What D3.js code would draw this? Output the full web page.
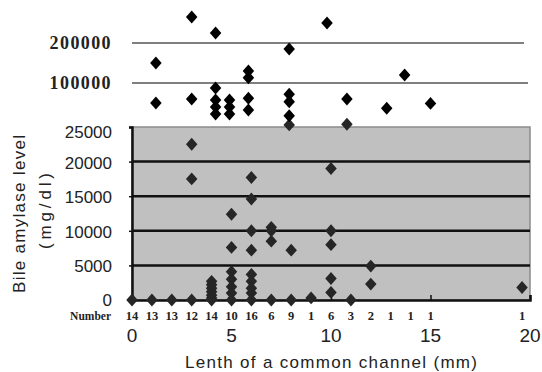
<!DOCTYPE html>
<html>
<head>
<meta charset="utf-8">
<script src="https://cdn.jsdelivr.net/npm/d3@7"></script>
<style>
  body { margin: 0; background: #fff; }
  svg { display: block; }
</style>
</head>
<body>
<div id="chart"></div>
<script>
// upper part of the broken axis (values above 25000)
const upperX = [3.0, 4.2, 1.2, 1.2, 3.0, 4.2, 4.2, 4.2, 4.2, 4.9, 4.9, 4.9, 5.85, 5.85, 5.85, 5.85, 7.9, 7.9, 7.9, 7.9, 9.8, 10.8, 12.8, 13.7, 15.0]
const upperY = [265000, 225000, 150000, 50000, 60000, 87500, 57500, 40000, 22500, 57500, 40000, 22500, 130000, 113000, 62000, 32500, 185000, 72000, 53000, 18000, 250000, 60000, 37000, 120000, 49000]

// lower part (0 - 25000)
const lowerX = [0, 1, 2, 3, 3, 3, 4, 4, 4, 4, 4, 4, 4, 5, 5, 5, 5, 5, 5, 5, 6, 6, 6, 6, 6, 6, 6, 6, 6, 7, 7, 7, 7, 7.9, 8, 8, 9, 10, 10, 10, 10, 10, 10.8, 11, 12, 12, 19.6]
const lowerY = [0, 0, 0, 22500, 17500, 0, 2700, 2200, 1700, 1200, 700, 300, 0, 12400, 7600, 4100, 3000, 1900, 1000, 0, 17700, 14600, 10000, 7200, 3700, 2700, 1700, 1000, 0, 10500, 10000, 8500, 0, 25300, 7200, 0, 300, 19000, 10000, 8000, 3100, 1100, 25400, 0, 4900, 2300, 1800]

const upperTicks = [100000, 200000]
const lowerTicks = [0, 5000, 10000, 15000, 20000, 25000]
const xTicks = [0, 5, 10, 15, 20]

// number of cases per length
const numberX = [0, 1, 2, 3, 4, 5, 6, 7, 8, 9, 10, 11, 12, 13, 14, 15, 19.6]
const numberN = [14, 13, 13, 12, 14, 10, 16, 6, 9, 1, 6, 3, 2, 1, 1, 1, 1]

const width = 542
const height = 372

const svg = d3.select("#chart")
    .append("svg")
    .attr("width", width)
    .attr("height", height)

const x = d3.scaleLinear().domain([0, 20]).range([132, 530])
const yLow = d3.scaleLinear().domain([0, 25000]).range([300, 127])
const yUp = d3.scaleLinear().domain([100000, 200000]).range([83, 43])

const diamond = d3.symbol().type(d3.symbolSquare).size(66)

// ---- upper panel
svg.append("g")
    .selectAll("line")
    .data(upperTicks)
    .join("line")
    .attr("x1", x(0))
    .attr("x2", (d, i) => i ? 524 : 528)
    .attr("y1", d => yUp(d))
    .attr("y2", d => yUp(d))
    .attr("stroke", "#555")
    .attr("stroke-width", 1.5)

svg.append("g")
    .selectAll("text")
    .data(upperTicks)
    .join("text")
    .attr("x", 112)
    .attr("y", d => yUp(d) + 6)
    .attr("text-anchor", "end")
    .style("font-family", "'Liberation Serif', serif")
    .style("font-weight", "bold")
    .style("font-size", "18px")
    .style("letter-spacing", "1.4px")
    .attr("fill", "#222")
    .text(d => d)

// ---- lower panel
svg.append("rect")
    .attr("x", x(0))
    .attr("y", yLow(25000))
    .attr("width", x(20) - x(0))
    .attr("height", yLow(0) - yLow(25000))
    .attr("fill", "#c0c0c0")
    .attr("stroke", "#8a8a8a")
    .attr("stroke-width", 1.5)

svg.append("g")
    .selectAll("line")
    .data(lowerTicks.filter(d => d > 0 && d < 25000))
    .join("line")
    .attr("x1", x(0))
    .attr("x2", x(20))
    .attr("y1", d => yLow(d))
    .attr("y2", d => yLow(d))
    .attr("stroke", "#111")
    .attr("stroke-width", 2.5)

// axes
const xAxis = svg.append("g")
    .attr("transform", `translate(0,${yLow(0)})`)
    .call(d3.axisBottom(x).tickValues(xTicks).tickSize(-5).tickFormat(""))
xAxis.select(".domain").attr("stroke", "#111").attr("stroke-width", 2.5)
xAxis.selectAll(".tick line").attr("stroke", "#111").attr("stroke-width", 1.5)

const yAxis = svg.append("g")
    .attr("transform", `translate(${x(0)},0)`)
    .call(d3.axisLeft(yLow).tickValues(lowerTicks).tickSize(3).tickFormat(""))
yAxis.select(".domain").attr("stroke", "#111").attr("stroke-width", 2.5)
yAxis.selectAll(".tick line").attr("stroke", "#111").attr("stroke-width", 1.5)

svg.append("g")
    .selectAll("text")
    .data(lowerTicks)
    .join("text")
    .attr("x", 112)
    .attr("y", d => yLow(d) + (d === 25000 ? 11 : d === 0 ? 6 : 7))
    .attr("text-anchor", "end")
    .style("font-family", "'Liberation Sans', Arial, sans-serif")
    .style("font-size", "17px")
    .attr("fill", "#222")
    .text(d => d)

svg.append("g")
    .selectAll("text")
    .data(xTicks)
    .join("text")
    .attr("x", d => x(d))
    .attr("y", 342)
    .attr("text-anchor", "middle")
    .style("font-family", "'Liberation Sans', Arial, sans-serif")
    .style("font-size", "19px")
    .attr("fill", "#222")
    .text(d => d)

// points
svg.append("g")
    .selectAll("path")
    .data(lowerX.map((d, i) => [d, lowerY[i]]))
    .join("path")
    .attr("d", diamond)
    .attr("transform", d => `translate(${x(d[0])},${yLow(d[1])}) scale(1,1.12) rotate(45)`)
    .attr("fill", "#262626")

svg.append("g")
    .selectAll("path")
    .data(upperX.map((d, i) => [d, upperY[i]]))
    .join("path")
    .attr("d", diamond)
    .attr("transform", d => `translate(${x(d[0])},${yUp(d[1])}) scale(1,1.12) rotate(45)`)
    .attr("fill", "#000")

// number row
svg.append("text")
    .attr("x", 111)
    .attr("y", 320)
    .attr("text-anchor", "end")
    .style("font-family", "'Liberation Serif', serif")
    .style("font-weight", "bold")
    .style("font-size", "11.5px")
    .attr("fill", "#222")
    .text("Number")

svg.append("g")
    .selectAll("text")
    .data(numberX.map((d, i) => [d, numberN[i]]))
    .join("text")
    .attr("x", d => x(d[0]))
    .attr("y", 320)
    .attr("text-anchor", "middle")
    .style("font-family", "'Liberation Serif', serif")
    .style("font-weight", "bold")
    .style("font-size", "12.5px")
    .attr("fill", "#222")
    .text(d => d[1])

// titles
svg.append("text")
    .attr("x", 331)
    .attr("y", 368)
    .attr("text-anchor", "middle")
    .attr("textLength", 292)
    .attr("lengthAdjust", "spacing")
    .style("font-family", "'Liberation Sans', Arial, sans-serif")
    .style("font-size", "17px")
    .attr("fill", "#222")
    .text("Lenth of a common channel (mm)")

svg.append("text")
    .attr("transform", "translate(25,214) rotate(-90)")
    .attr("text-anchor", "middle")
    .attr("textLength", 158)
    .attr("lengthAdjust", "spacing")
    .style("font-family", "'Liberation Sans', Arial, sans-serif")
    .style("font-size", "17px")
    .attr("fill", "#222")
    .text("Bile amylase level")

svg.append("text")
    .attr("transform", "translate(51,211) rotate(-90)")
    .attr("text-anchor", "middle")
    .attr("textLength", 76)
    .attr("lengthAdjust", "spacing")
    .style("font-family", "'Liberation Sans', Arial, sans-serif")
    .style("font-size", "17px")
    .attr("fill", "#222")
    .text("(mg/dl)")
</script>
</body>
</html>
